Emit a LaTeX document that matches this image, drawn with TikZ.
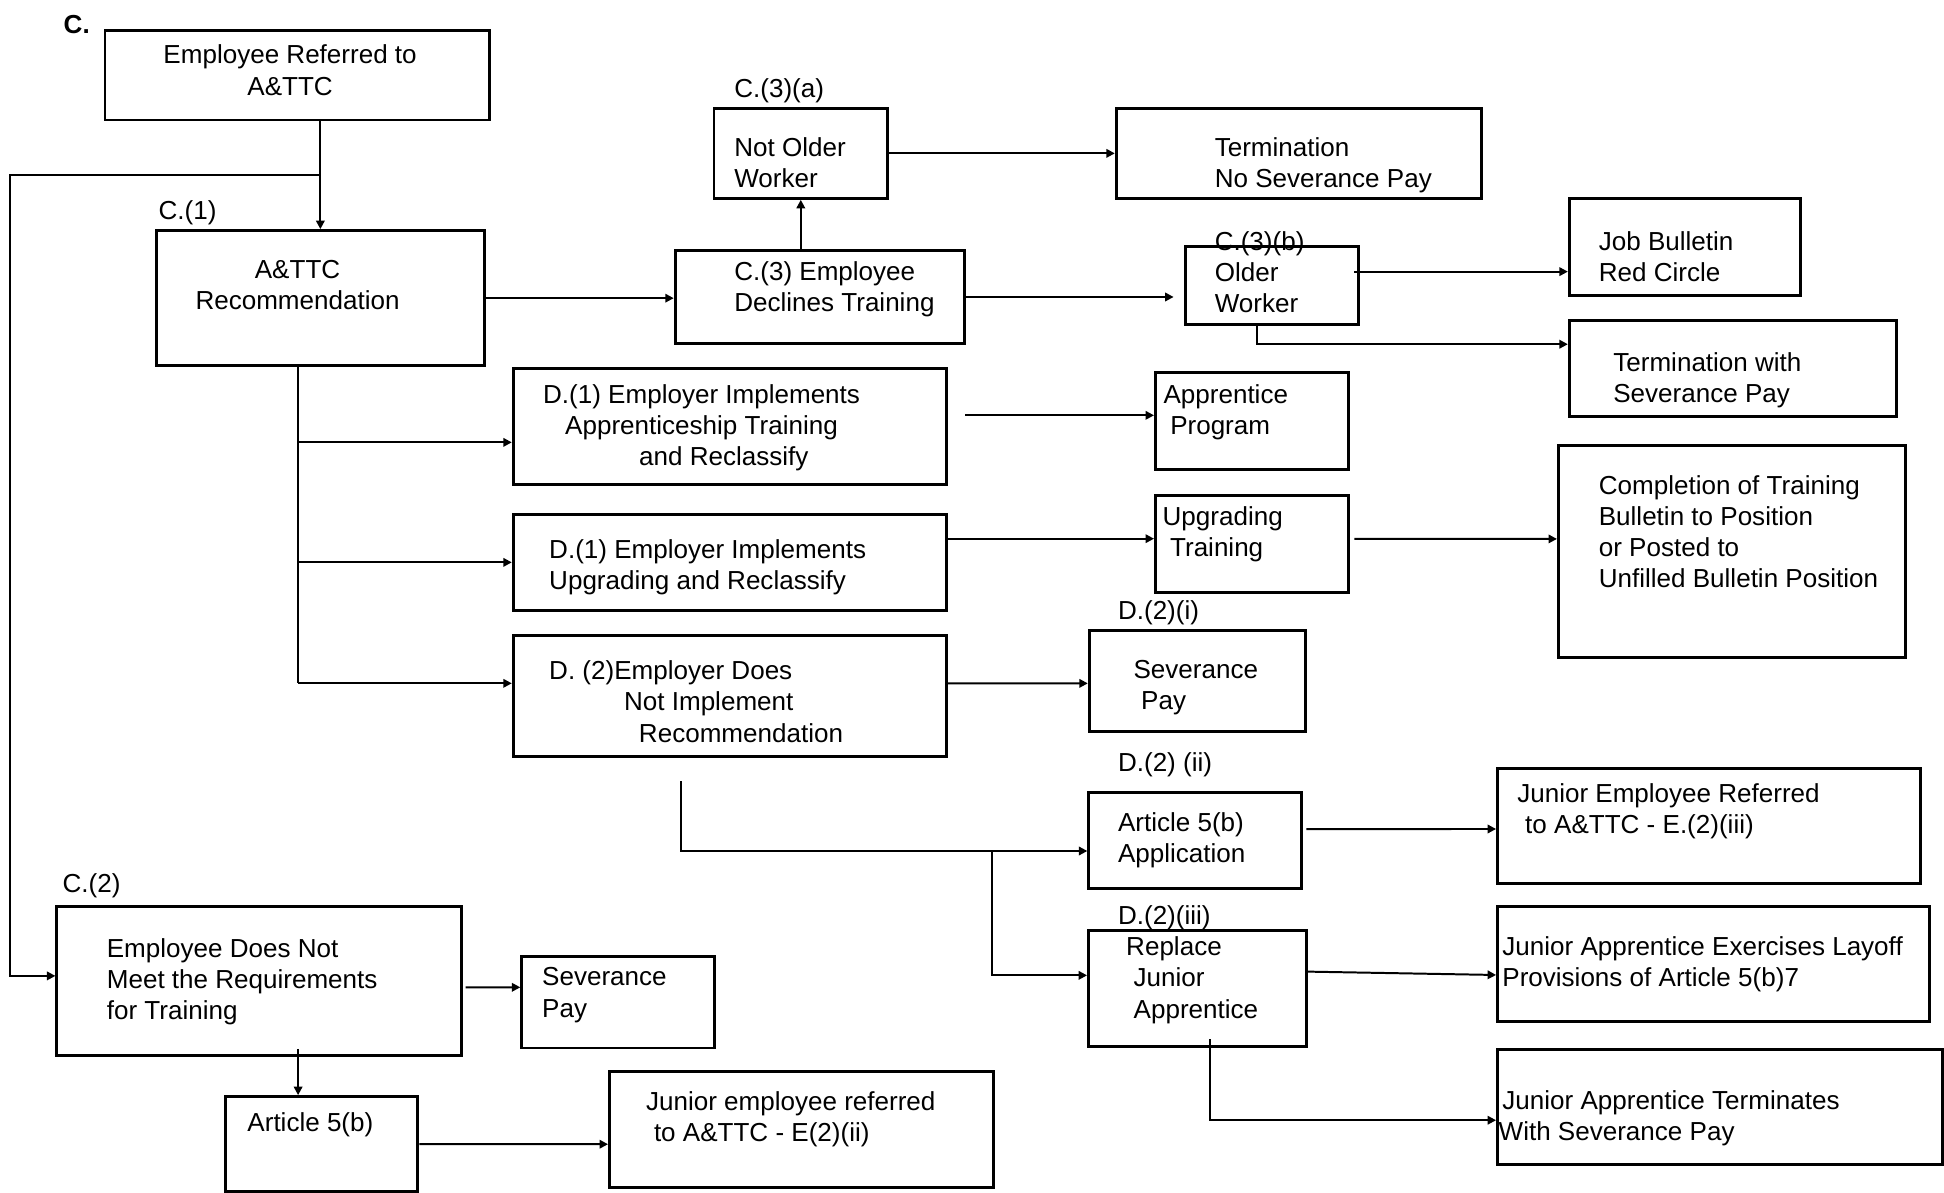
\documentclass[tikz,border=0pt]{standalone}
\usepackage{fontspec}
\setmainfont{Liberation Sans}
\usetikzlibrary{arrows.meta,calc,fit,positioning}

\begin{document}
\begin{tikzpicture}[
  x=0.5pt,
  y=-0.5pt,
  line width=0.8pt,
  >={Triangle[length=3.4pt,width=3.4pt]},
  mybox/.style={
    draw,
    line width=1.2pt,
    inner sep=0pt
    },
  mytext/.style={
    inner sep=0pt,
    anchor=north west,
    align=left,
    yshift=1pt,
    font=\fontsize{10.5}{12.6}\selectfont
    }
]
\useasboundingbox (0,0) rectangle (1568,962);

% boxes: name / left / top / right / bottom
\foreach \Name/\Xa/\Ya/\Xb/\Yb in {
  empref/84.7/24.7/395/96.8,
  recom/126.4/186/390.4/295,
  notolder/575.9/87.4/715.9/160,
  termnosev/900.4/87.4/1195/160,
  declines/544.6/202.2/777.6/276.9,
  older/955.8/199.2/1096/261.6,
  jobbull/1265.8/160.5/1452.5/238.5,
  termsev/1265.8/258.4/1529.8/336.3,
  apprimpl/414/297.6/763.1/390.6,
  apprprog/932/300.6/1087.8/378.8,
  upgrimpl/414/414.6/763.1/492.6,
  upgrtrain/932/399.8/1087.8/477.8,
  complet/1257/359.7/1537/530.5,
  noimpl/414/512.7/763.1/609.8,
  sevpay/878.6/508.4/1053.2/590.4,
  artapp/878.2/639/1049.7/716.8,
  junref/1207.9/619.7/1549.1/713,
  replace/878/750.7/1053.9/843.7,
  junlayoff/1207.9/731.3/1556.5/824.1,
  junterm/1207.9/846.4/1566.5/939.1,
  nomeet/45.9/730.8/372.2/851.5,
  sevpaytwo/420.9/771.6/576.4/845.3,
  artfive/182/884.5/337.1/961.2,
  junemp/491.6/864.4/801.7/958}
  \node[mybox, fit={(\Xa,\Ya) (\Xb,\Yb)}] (\Name) {};

% section tags
\node[mytext, font=\fontsize{10.5}{12.6}\selectfont\bfseries] (tagC) at (50.6,13.4) {C.};
\foreach \Tag/\X/\Y [count=\Tagi] in {C.(1)/127.2/162.7, C.(3)(a)/591.5/64.5,
    C.(3)(b)/979/187.7, D.(2)(i)/901/485.5, D.(2) (ii)/901/608.5,
    D.(2)(iii)/901/731.3, C.(2)/49.7/705.8}
  \node[mytext] (tag\Tagi) at (\X,\Y) {\Tag};

% box texts
\node[mytext, anchor=north, align=center] (emprefTxt) at (234,37.6) {Employee Referred to\\A\&TTC};
\node[mytext, anchor=north, align=center] (recomTxt) at (240,211) {A\&TTC\\Recommendation};
\node[mytext] (notolderTxt) at (591.5,112.4) {Not Older\\Worker};
\node[mytext] (termnosevTxt) at (979,112.4) {Termination\\No Severance Pay};
\node[mytext] (declinesTxt) at (591.5,212.4) {C.(3) Employee\\Declines Training};
\node[mytext] (olderTxt) at (979,212.9) {Older\\Worker};
\node[mytext] (jobbullTxt) at (1288.8,187.7) {Job Bulletin\\Red Circle};
\node[mytext] (termsevTxt) at (1300.5,285.5) {Termination with\\Severance Pay};
\node[mytext] (apprimplTxt) at (437.3,311.3)
  {D.(1) Employer Implements\\\hspace*{8.9pt}Apprenticeship Training\\\hspace*{38.7pt}and Reclassify};
\node[mytext] (apprprogTxt) at (937.7,311.3) {Apprentice\\\hspace*{2.7pt}Program};
\node[mytext] (upgrimplTxt) at (442.2,436.1) {D.(1) Employer Implements\\Upgrading and Reclassify};
\node[mytext] (upgrtrainTxt) at (937,410) {Upgrading\\\hspace*{3pt}Training};
\node[mytext] (completTxt) at (1288.8,384.5)
  {Completion of Training\\Bulletin to Position\\or Posted to\\Unfilled Bulletin Position};
\node[mytext] (noimplTxt) at (442.2,534.2)
  {D. (2)Employer Does\\\hspace*{30.2pt}Not Implement\\\hspace*{36.2pt}Recommendation};
\node[mytext] (sevpayTxt) at (913.5,533.7) {Severance\\\hspace*{3.1pt}Pay};
\node[mytext] (artappTxt) at (901,656.6) {Article 5(b)\\Application};
\node[mytext] (junrefTxt) at (1223,633.2) {Junior Employee Referred\\\hspace*{3.2pt}to A\&TTC - E.(2)(iii)};
\node[mytext] (replaceTxt) at (907.6,756.8) {Replace\\\hspace*{3pt}Junior\\\hspace*{3pt}Apprentice};
\node[mytext] (junlayoffTxt) at (1211,756.8) {Junior Apprentice Exercises Layoff\\Provisions of Article 5(b)7};
\node[mytext] (juntermTxt) at (1211,881) {Junior Apprentice Terminates\\\hspace*{-1.5pt}With Severance Pay};
\node[mytext] (nomeetTxt) at (85.4,758.2) {Employee Does Not\\Meet the Requirements\\for Training};
\node[mytext] (sevpaytwoTxt) at (436.5,781.8) {Severance\\Pay};
\node[mytext] (artfiveTxt) at (198.8,898.8) {Article 5(b)};
\node[mytext] (junempTxt) at (520.3,881.3) {Junior employee referred\\\hspace*{3.2pt}to A\&TTC - E(2)(ii)};

% ports and bends
\coordinate (split) at ($(empref.south -| recom.north)!0.5!(recom.north)$);
\coordinate (rail) at (8,0);
\coordinate (nomeetin) at ([shift={(0,-4)}]nomeet.west);
\coordinate (trunk) at ([shift={(-18.3,0)}]recom.south);
\coordinate (apprin) at ([shift={(0,12.7)}]apprimpl.west);
\coordinate (noimplin) at ([shift={(0,-10.1)}]noimpl.west);
\coordinate (drop) at ([shift={(-39.3,19.3)}]noimpl.south);
\coordinate (artin) at ([shift={(0,8.5)}]artapp.west);
\coordinate (fork) at ([shift={(-77,0)}]artin);

% connectors
\draw[->] (empref.south -| recom.north) -- (recom.north);
\draw[->] (split) -- (split -| rail) |- (nomeetin);
\draw[->] (recom.east) -- (recom.east -| declines.west);
\draw[->] (declines.north -| notolder.south) -- (notolder.south);
\draw[->] (notolder.east) -- (termnosev.west);
\draw[->, shorten >=4pt] (declines.east) -- (declines.east -| older.west);
\draw[->] ([shift={(-5,-11.3)}]older.east) -- ([shift={(0,19.6)}]jobbull.west);
\draw[->] ([shift={(-12,0)}]older.south) |- ([shift={(0,-19.7)}]termsev.west);

\draw (trunk) -- (trunk |- noimplin);
\foreach \Port in {apprin, upgrimpl.west, noimplin}
  \draw[->] (trunk |- \Port) -- (\Port);

\draw[->] ([shift={(14.4,-9.1)}]apprimpl.east) -- ([shift={(0,-4.7)}]apprprog.west);
\draw[->] ([shift={(0,-19.1)}]upgrimpl.east) -- ([shift={(0,-4.3)}]upgrtrain.west);
\draw[->] ([shift={(3.5,-4.1)}]upgrtrain.east) -- ([shift={(0,-10.4)}]complet.west);
\draw[->] ([shift={(0,-10.1)}]noimpl.east) -- ([shift={(0,1.8)}]sevpay.west);

\draw[->] (drop) |- (artin);
\draw[->] (fork) |- ([shift={(0,-10.5)}]replace.west);
\draw[->] ([shift={(2.7,-9.2)}]artapp.east) -- ([shift={(0,2.3)}]junref.west);
\draw[->] ([shift={(0,-13.5)}]replace.east) -- ([shift={(0,8.7)}]junlayoff.west);
\draw[->] ([shift={(9.7,-6.7)}]replace.south) |- ([shift={(0,10.8)}]junterm.west);

\draw[->] ([shift={(2.1,5.2)}]nomeet.east) -- ([shift={(0,-12.1)}]sevpaytwo.west);
\draw[->] ([shift={(31.4,-6.7)}]nomeet.south) -- ([shift={(-19.1,0)}]artfive.north);
\draw[->] (artfive.east) -- ([shift={(0,11.7)}]junemp.west);

\end{tikzpicture}
\end{document}
